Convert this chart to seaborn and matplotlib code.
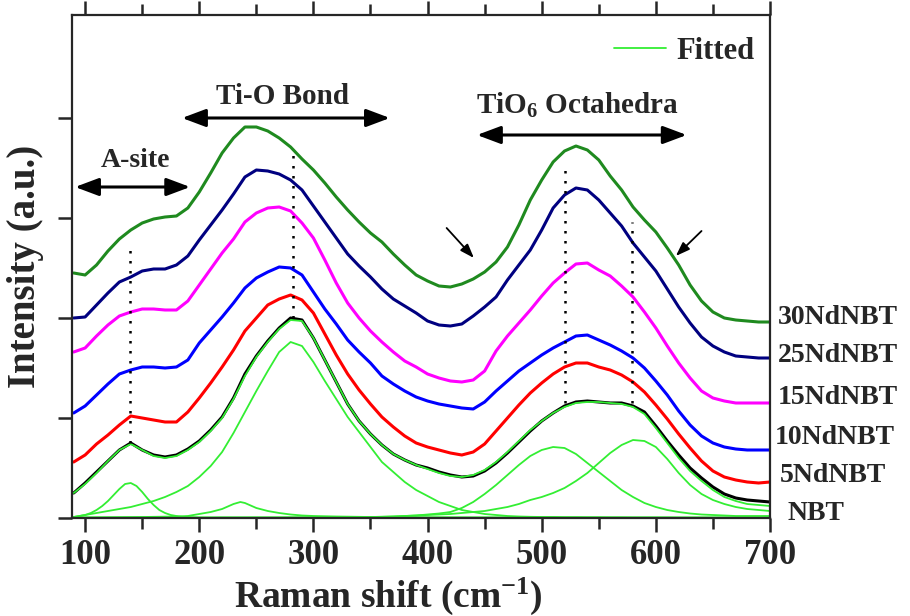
import numpy as np
import pandas as pd
import seaborn as sns
import matplotlib
matplotlib.use("Agg")
import matplotlib.pyplot as plt
from matplotlib.lines import Line2D
from matplotlib.patches import ArrowStyle

# ---------------- data ----------------
shift = [90, 100, 110, 120, 130, 140, 150, 160, 170, 180,
         190, 200, 210, 220, 230, 240, 250, 260, 270, 280,
         290, 300, 310, 320, 330, 340, 350, 360, 370, 380,
         390, 400, 410, 420, 430, 440, 450, 460, 470, 480,
         490, 500, 510, 520, 530, 540, 550, 560, 570, 580,
         590, 600, 610, 620, 630, 640, 650, 660, 670, 680,
         690, 700]

samples = ["NBT", "5NdNBT", "10NdNBT", "15NdNBT", "25NdNBT", "30NdNBT"]

nbt = [0.25, 0.35, 0.46, 0.57, 0.68, 0.75, 0.68, 0.63, 0.61, 0.63,
       0.69, 0.77, 0.88, 1.01, 1.20, 1.44, 1.62, 1.77, 1.90, 2.00,
       1.98, 1.80, 1.58, 1.36, 1.14, 0.97, 0.84, 0.73, 0.64, 0.58,
       0.53, 0.50, 0.46, 0.43, 0.41, 0.42, 0.47, 0.55, 0.65, 0.76,
       0.87, 0.97, 1.05, 1.12, 1.16, 1.17, 1.16, 1.15, 1.15, 1.12,
       1.06, 0.92, 0.77, 0.63, 0.50, 0.40, 0.31, 0.24, 0.20, 0.18,
       0.17, 0.16]

nd5 = [0.56, 0.63, 0.74, 0.83, 0.93, 1.02, 1.00, 0.98, 0.96, 0.96,
       1.06, 1.20, 1.35, 1.51, 1.68, 1.87, 2.00, 2.13, 2.19, 2.23,
       2.18, 2.05, 1.84, 1.63, 1.44, 1.28, 1.14, 1.01, 0.91, 0.82,
       0.75, 0.71, 0.68, 0.65, 0.63, 0.66, 0.74, 0.87, 1.00, 1.13,
       1.25, 1.35, 1.44, 1.51, 1.55, 1.55, 1.51, 1.48, 1.43, 1.36,
       1.26, 1.13, 0.99, 0.84, 0.70, 0.57, 0.47, 0.41, 0.38, 0.36,
       0.35, 0.36]

nd10 = [1.05, 1.12, 1.23, 1.34, 1.44, 1.48, 1.51, 1.51, 1.50, 1.51,
        1.58, 1.75, 1.88, 2.01, 2.15, 2.30, 2.40, 2.46, 2.51, 2.50,
        2.43, 2.26, 2.09, 1.94, 1.78, 1.66, 1.55, 1.42, 1.34, 1.27,
        1.21, 1.17, 1.14, 1.12, 1.10, 1.09, 1.16, 1.27, 1.37, 1.47,
        1.55, 1.63, 1.70, 1.76, 1.82, 1.83, 1.78, 1.73, 1.67, 1.60,
        1.50, 1.37, 1.23, 1.07, 0.93, 0.82, 0.75, 0.71, 0.69, 0.68,
        0.68, 0.68]

nd15 = [1.66, 1.70, 1.82, 1.93, 2.02, 2.06, 2.09, 2.09, 2.08, 2.08,
        2.17, 2.33, 2.49, 2.65, 2.79, 2.96, 3.05, 3.10, 3.11, 3.07,
        2.95, 2.80, 2.58, 2.35, 2.15, 2.00, 1.87, 1.76, 1.66, 1.57,
        1.51, 1.44, 1.40, 1.37, 1.36, 1.38, 1.47, 1.67, 1.82, 1.95,
        2.08, 2.22, 2.35, 2.45, 2.54, 2.55, 2.48, 2.42, 2.32, 2.21,
        2.06, 1.90, 1.72, 1.55, 1.40, 1.27, 1.20, 1.17, 1.15, 1.15,
        1.15, 1.15]

nd25 = [2.00, 2.01, 2.13, 2.25, 2.36, 2.41, 2.47, 2.49, 2.49, 2.53,
        2.62, 2.78, 2.93, 3.08, 3.24, 3.41, 3.48, 3.47, 3.44, 3.38,
        3.28, 3.12, 2.96, 2.80, 2.64, 2.52, 2.41, 2.29, 2.19, 2.12,
        2.05, 1.97, 1.93, 1.92, 1.94, 2.02, 2.11, 2.21, 2.38, 2.53,
        2.68, 2.88, 3.10, 3.23, 3.30, 3.28, 3.18, 3.05, 2.92, 2.75,
        2.61, 2.47, 2.29, 2.11, 1.95, 1.81, 1.72, 1.66, 1.62, 1.61,
        1.60, 1.60]

nd30 = [2.45, 2.43, 2.53, 2.67, 2.79, 2.88, 2.95, 2.99, 3.01, 3.02,
        3.10, 3.26, 3.45, 3.65, 3.80, 3.91, 3.91, 3.87, 3.80, 3.71,
        3.59, 3.48, 3.35, 3.21, 3.08, 2.96, 2.85, 2.76, 2.64, 2.53,
        2.43, 2.37, 2.32, 2.31, 2.34, 2.39, 2.46, 2.56, 2.71, 2.93,
        3.18, 3.38, 3.56, 3.67, 3.72, 3.68, 3.58, 3.42, 3.28, 3.11,
        2.98, 2.86, 2.70, 2.53, 2.33, 2.17, 2.06, 2.00, 1.98, 1.97,
        1.96, 1.96]

# fitted curve of NBT (sum) and its components
fit_sum = [0.25, 0.34, 0.45, 0.57, 0.68, 0.74, 0.68, 0.62, 0.60, 0.62,
           0.68, 0.76, 0.87, 1.00, 1.19, 1.42, 1.61, 1.76, 1.89, 1.98,
           1.97, 1.80, 1.58, 1.36, 1.14, 0.97, 0.84, 0.73, 0.64, 0.58,
           0.53, 0.49, 0.45, 0.42, 0.41, 0.43, 0.48, 0.56, 0.66, 0.77,
           0.88, 0.97, 1.05, 1.11, 1.15, 1.16, 1.16, 1.15, 1.14, 1.11,
           1.04, 0.90, 0.75, 0.60, 0.47, 0.37, 0.28, 0.21, 0.17, 0.14,
           0.13, 0.12]

comp_main = [0.01, 0.03, 0.05, 0.07, 0.09, 0.11, 0.14, 0.17, 0.21, 0.26,
             0.32, 0.41, 0.52, 0.66, 0.85, 1.06, 1.27, 1.47, 1.66, 1.76,
             1.72, 1.56, 1.37, 1.19, 1.01, 0.86, 0.71, 0.56, 0.46, 0.36,
             0.28, 0.22, 0.16, 0.12, 0.08, 0.06, 0.04, 0.03, 0.02, 0.015,
             0.012, 0.01, 0.01, 0.008, 0.008, 0.007, 0.007, 0.006, 0.006, 0.005,
             0.005, 0.005, 0.005, 0.004, 0.004, 0.004, 0.004, 0.004, 0.003, 0.003,
             0.003, 0.003]

comp_515 = [0.003, 0.003, 0.003, 0.003, 0.003, 0.003, 0.003, 0.003, 0.003, 0.003,
            0.003, 0.003, 0.003, 0.003, 0.003, 0.003, 0.003, 0.003, 0.003, 0.003,
            0.003, 0.003, 0.004, 0.005, 0.006, 0.008, 0.01, 0.012, 0.015, 0.02,
            0.025, 0.035, 0.045, 0.06, 0.10, 0.16, 0.24, 0.33, 0.43, 0.53,
            0.62, 0.68, 0.71, 0.70, 0.64, 0.55, 0.46, 0.37, 0.28, 0.21,
            0.15, 0.11, 0.08, 0.06, 0.045, 0.035, 0.03, 0.025, 0.02, 0.02,
            0.02, 0.02]

comp_585 = [0.003, 0.003, 0.003, 0.003, 0.003, 0.003, 0.003, 0.003, 0.003, 0.003,
            0.003, 0.003, 0.003, 0.004, 0.004, 0.004, 0.005, 0.005, 0.005, 0.006,
            0.006, 0.006, 0.007, 0.007, 0.008, 0.009, 0.01, 0.012, 0.015, 0.02,
            0.025, 0.03, 0.035, 0.04, 0.05, 0.06, 0.07, 0.09, 0.11, 0.14,
            0.18, 0.21, 0.25, 0.30, 0.37, 0.45, 0.55, 0.65, 0.73, 0.78,
            0.77, 0.71, 0.59, 0.45, 0.33, 0.24, 0.18, 0.14, 0.11, 0.09,
            0.08, 0.07]

shift_137 = [90, 95, 100, 105, 110, 115, 120, 125, 130, 135, 140, 145, 150,
             155, 160, 165, 170, 175, 180, 185, 190, 200, 300, 500, 700]
comp_137 = [0.01, 0.02, 0.03, 0.05, 0.08, 0.12, 0.17, 0.23, 0.29, 0.34, 0.35,
            0.32, 0.26, 0.19, 0.13, 0.08, 0.05, 0.03, 0.02, 0.012, 0.008,
            0.005, 0.004, 0.003, 0.003]

shift_237 = [90, 150, 180, 190, 200, 210, 220, 230, 236, 240, 250, 260, 270,
             280, 290, 300, 320, 350, 400, 500, 700]
comp_237 = [0.005, 0.01, 0.015, 0.02, 0.04, 0.06, 0.09, 0.14, 0.16, 0.15, 0.10,
            0.07, 0.05, 0.035, 0.025, 0.02, 0.015, 0.01, 0.007, 0.005, 0.003]

# vibrational-mode guide lines (dotted)
mode_pos = [139.5, 282.5, 520.0, 579.5]
mode_low = [0.75, 2.00, 1.15, 1.15]
mode_high = [2.73, 3.68, 3.53, 2.96]

sample_colors = ["black", "#ff0000", "#0000ff", "#ff00ff", "#000080", "#1f8a1f"]
fit_color = "#33ee33"

# ---------------- style ----------------
sns.set_style("ticks")
plt.rcParams["font.family"] = ["Liberation Serif", "DejaVu Serif"]
plt.rcParams["font.weight"] = "bold"
plt.rcParams["mathtext.fontset"] = "custom"
plt.rcParams["mathtext.rm"] = "Liberation Serif:bold"
plt.rcParams["mathtext.it"] = "Liberation Serif:bold"
plt.rcParams["mathtext.bf"] = "Liberation Serif:bold"
plt.rcParams["mathtext.default"] = "rm"

fig = plt.figure(figsize=(9.1, 6.16), dpi=100)
ax = fig.add_axes([72 / 910, 98 / 616, 698 / 910, 503 / 616])

# ---------------- spectra ----------------
spectra = [nbt, nd5, nd10, nd15, nd25, nd30]
df = pd.DataFrame({
    "shift": shift * len(samples),
    "intensity": sum(spectra, []),
    "sample": sum([[s] * len(shift) for s in samples], []),
})
sns.lineplot(data=df, x="shift", y="intensity", hue="sample",
             hue_order=samples, palette=dict(zip(samples, sample_colors)),
             estimator=None, sort=False, legend=False, linewidth=2.2, ax=ax)

# ---------------- fitted curves ----------------
fit_parts = [
    ("sum", shift, fit_sum),
    ("main", shift, comp_main),
    ("p515", shift, comp_515),
    ("p585", shift, comp_585),
    ("p137", shift_137, comp_137),
    ("p237", shift_237, comp_237),
]
df_fit = pd.DataFrame({
    "shift": sum([list(x) for _, x, _ in fit_parts], []),
    "intensity": sum([list(y) for _, _, y in fit_parts], []),
    "component": sum([[n] * len(x) for n, x, _ in fit_parts], []),
})
sns.lineplot(data=df_fit, x="shift", y="intensity", units="component",
             estimator=None, sort=False, color=fit_color, linewidth=1.3,
             legend=False, ax=ax)

# dotted guides
for xp, lo, hi in zip(mode_pos, mode_low, mode_high):
    ax.plot([xp, xp], [lo, hi], color="black", lw=1.8, ls=(0, (1, 3)), zorder=5)

# ---------------- axes ----------------
ax.set_xlim(88.5, 700)
ax.set_ylim(0, 5.03)
ax.set_xticks([100, 200, 300, 400, 500, 600, 700])
ax.set_xticks([150, 250, 350, 450, 550, 650], minor=True)
ax.set_yticks([0, 1, 2, 3, 4])
ax.tick_params(axis="x", which="major", direction="out", length=10, width=1.8,
               top=True, labelsize=25, pad=5)
ax.tick_params(axis="x", which="minor", direction="out", length=8, width=1.8,
               top=True)
ax.tick_params(axis="y", which="major", direction="out", length=10, width=1.8,
               left=True, right=False, labelleft=False)
for lab in ax.get_xticklabels():
    lab.set_fontweight("bold")
for sp in ax.spines.values():
    sp.set_linewidth(1.6)
    sp.set_visible(True)

ax.set_xlabel("Raman shift (cm$^{-1}$)", fontsize=27, fontweight="bold")
ax.set_ylabel("Intensity (a.u.)", fontsize=28, fontweight="bold")
ax.xaxis.set_label_coords(0.453, -0.115)
ax.yaxis.set_label_coords(-0.04, 0.5)

# ---------------- annotations ----------------
big_arrow = ArrowStyle("<|-|>", head_length=0.8, head_width=0.3)
ax.annotate("", xy=(192, 3.31), xytext=(91.2, 3.31),
            arrowprops=dict(arrowstyle=big_arrow, color="black", lw=2.2,
                            mutation_scale=18, shrinkA=0, shrinkB=0))
ax.text(143.8, 3.58, "A-site", ha="center", va="center", fontsize=20,
        fontweight="bold")

ax.annotate("", xy=(367, 4.0), xytext=(184.9, 4.0),
            arrowprops=dict(arrowstyle=big_arrow, color="black", lw=2.2,
                            mutation_scale=18, shrinkA=0, shrinkB=0))
ax.text(273, 4.21, "Ti-O Bond", ha="center", va="center", fontsize=21,
        fontweight="bold")

ax.annotate("", xy=(627, 3.83), xytext=(443.3, 3.83),
            arrowprops=dict(arrowstyle=big_arrow, color="black", lw=2.2,
                            mutation_scale=18, shrinkA=0, shrinkB=0))
ax.text(531.7, 4.13, "TiO$_{6}$ Octahedra", ha="center", va="center",
        fontsize=21, fontweight="bold")

small_arrow = ArrowStyle("-|>", head_length=0.7, head_width=0.25)
ax.annotate("", xy=(440.6, 2.60), xytext=(416.7, 2.90),
            arrowprops=dict(arrowstyle=small_arrow, color="black", lw=1.3,
                            mutation_scale=12, shrinkA=0, shrinkB=0))
ax.annotate("", xy=(617.5, 2.62), xytext=(640.0, 2.87),
            arrowprops=dict(arrowstyle=small_arrow, color="black", lw=1.3,
                            mutation_scale=12, shrinkA=0, shrinkB=0))

# sample labels on the right
label_x = [715.6, 708.6, 704.2, 706.8, 706.8, 706.8]
label_y = [0.05, 0.43, 0.81, 1.21, 1.62, 2.01]
for name, lx, ly in zip(samples, label_x, label_y):
    ax.text(lx, ly, name, ha="left", va="center", fontsize=20,
            fontweight="bold", clip_on=False)

# legend for fitted curves
ax.legend(handles=[Line2D([], [], color=fit_color, lw=1.3)], labels=["Fitted"],
          loc="center right", bbox_to_anchor=(0.9785, 0.928), frameon=False,
          handlelength=1.7, handletextpad=0.35, borderpad=0,
          borderaxespad=0, prop={"weight": "bold", "size": 22})

fig.savefig("out.png", dpi=100)
